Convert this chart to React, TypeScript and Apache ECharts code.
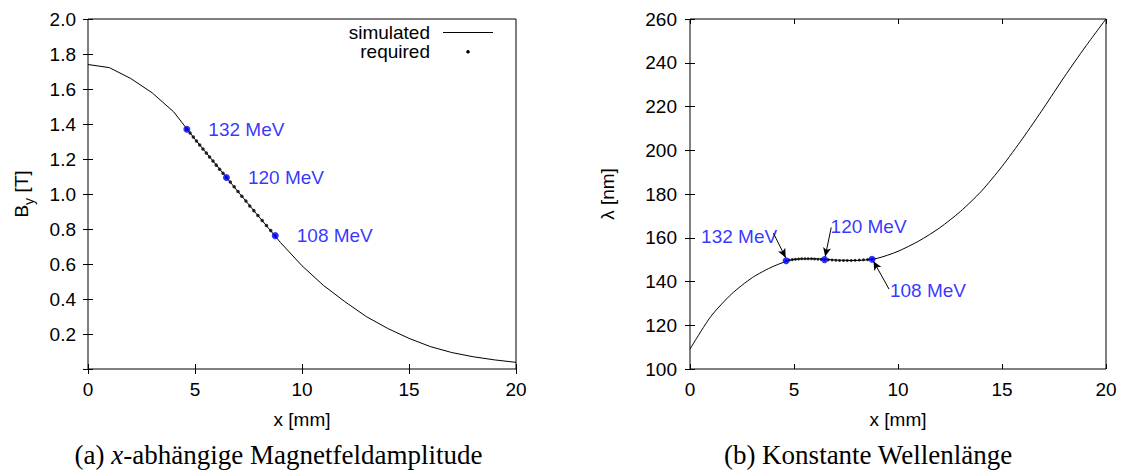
import React, { useEffect, useRef } from 'react';
import * as echarts from 'echarts';

// ---- Data ----
// (a) simulated field amplitude B_y [T] vs x [mm]
const simFieldX = [0, 1, 2, 3, 4, 5, 6, 7, 8, 9, 10, 11, 12, 13, 14, 15, 16, 17, 18, 19, 20];
const simFieldB = [1.740, 1.722, 1.660, 1.578, 1.470, 1.313, 1.165, 1.015, 0.868, 0.722, 0.590, 0.478, 0.385, 0.300, 0.232, 0.175, 0.128, 0.094, 0.070, 0.052, 0.038];

// (b) simulated wavelength lambda [nm] vs x [mm]
const simLambdaX = [0, 1, 2, 3, 4, 5, 6, 7, 8, 9, 10, 11, 12, 13, 14, 15, 16, 17, 18, 19, 20];
const simLambda = [109.1, 124.0, 134.3, 141.8, 146.9, 150.1, 150.4, 149.8, 149.6, 150.6, 153.8, 158.5, 164.5, 172.0, 181.2, 192.6, 205.5, 219.3, 233.6, 247.2, 260.0];

// required points (132 MeV ... 108 MeV)
const reqX = [4.62, 4.77, 4.92, 5.07, 5.22, 5.37, 5.53, 5.68, 5.84, 5.99, 6.15, 6.31, 6.47, 6.65, 6.83, 7.01, 7.19, 7.38, 7.56, 7.75, 7.94, 8.14, 8.34, 8.54, 8.75];
const reqB = [1.370, 1.348, 1.326, 1.303, 1.280, 1.257, 1.234, 1.211, 1.188, 1.165, 1.141, 1.118, 1.094, 1.068, 1.041, 1.014, 0.987, 0.960, 0.932, 0.905, 0.877, 0.849, 0.820, 0.791, 0.762];
const reqLambda = [149.5, 149.8, 150.0, 150.2, 150.3, 150.4, 150.4, 150.4, 150.4, 150.3, 150.2, 150.1, 150.0, 149.9, 149.8, 149.7, 149.6, 149.6, 149.6, 149.6, 149.7, 149.8, 149.9, 150.0, 150.2];

// highlighted energies
const energyLabels = ['132 MeV', '120 MeV', '108 MeV'];
const energyX = [4.62, 6.47, 8.75];
const energyB = [1.370, 1.094, 0.762];
const energyLambda = [149.5, 150.0, 150.2];
// arrow anchors (data units) for panel (b)
const arrowFromX = [4.01, 6.79, 9.57];
const arrowFromLambda = [162.1, 164.7, 136.5];
const arrowToX = [4.60, 6.50, 8.82];
const arrowToLambda = [150.9, 151.4, 149.3];

const xTicksMin = 0, xTicksMax = 20, xTickStep = 5;
const fieldMin = 0, fieldMax = 2.0, fieldStep = 0.2;
const lambdaMin = 100, lambdaMax = 260, lambdaStep = 20;

const captionA = ['(a) ', 'x', '-abhängige Magnetfeldamplitude'];
const captionB = '(b) Konstante Wellenlänge';

export default function App() {
  const ref = useRef<HTMLDivElement>(null);
  useEffect(() => {
    if (!ref.current) return;
    const chart = echarts.init(ref.current, undefined, { renderer: 'svg' });
    const SANS = 'Liberation Sans, Arial, Helvetica, sans-serif';
    const SERIF = 'Liberation Serif, Times New Roman, serif';
    const FS = 19;
    const CAP = 27;
    const black = '#000';
    const blue = '#0000ff';

    const grids = [
      { left: 88, top: 19, width: 428, height: 350, show: true, borderColor: black, borderWidth: 1, backgroundColor: 'transparent' },
      { left: 690, top: 19, width: 416, height: 350, show: true, borderColor: black, borderWidth: 1, backgroundColor: 'transparent' },
    ];

    const xBase = (gridIndex: number, position: 'bottom' | 'top', main: boolean) => ({
      type: 'value', gridIndex, position, min: xTicksMin, max: xTicksMax, interval: xTickStep,
      axisLine: { show: false },
      axisTick: { show: true, inside: true, length: 5, lineStyle: { color: black, width: 1 } },
      axisLabel: { show: main, color: black, fontFamily: SANS, fontSize: FS, margin: 11 },
      splitLine: { show: false },
      name: main ? 'x [mm]' : '',
      nameLocation: 'middle', nameGap: 41,
      nameTextStyle: { color: black, fontFamily: SANS, fontSize: FS },
    });

    const yField = (position: 'left' | 'right', main: boolean) => ({
      type: 'value', gridIndex: 0, position, min: fieldMin, max: fieldMax, interval: fieldStep,
      axisLine: { show: false },
      axisTick: { show: true, inside: true, length: 5, lineStyle: { color: black, width: 1 } },
      axisLabel: {
        show: main, color: black, fontFamily: SANS, fontSize: FS, margin: 12,
        formatter: (v: number) => (Math.abs(v) < 1e-9 ? '' : v.toFixed(1)),
      },
      splitLine: { show: false },
      name: main ? '{b|B}{s|y}{b| [T]}' : '',
      nameLocation: 'middle', nameGap: 52,
      nameTextStyle: {
        color: black, fontFamily: SANS, fontSize: FS,
        rich: {
          b: { fontFamily: SANS, fontSize: FS, color: black, lineHeight: 30, verticalAlign: 'middle' },
          s: { fontFamily: SANS, fontSize: 14, color: black, lineHeight: 30, verticalAlign: 'bottom' },
        },
      },
    });

    const yLambda = (position: 'left' | 'right', main: boolean) => ({
      type: 'value', gridIndex: 1, position, min: lambdaMin, max: lambdaMax, interval: lambdaStep,
      axisLine: { show: false },
      axisTick: { show: true, inside: true, length: 5, lineStyle: { color: black, width: 1 } },
      axisLabel: { show: main, color: black, fontFamily: SANS, fontSize: FS, margin: 13 },
      splitLine: { show: false },
      name: main ? 'λ [nm]' : '',
      nameLocation: 'middle', nameGap: 73,
      nameTextStyle: { color: black, fontFamily: SANS, fontSize: FS },
    });

    const zip = (a: number[], b: number[]) => a.map((v, i) => [v, b[i]]);

    const rightOffsets = [[-47, -24], [44, -33], [56, 31]];

    const option: any = {
      animation: false,
      backgroundColor: '#fff',
      grid: grids,
      xAxis: [xBase(0, 'bottom', true), xBase(0, 'top', false), xBase(1, 'bottom', true), xBase(1, 'top', false)],
      yAxis: [yField('left', true), yField('right', false), yLambda('left', true), yLambda('right', false)],
      series: [
        {
          name: 'simulated', type: 'line', xAxisIndex: 0, yAxisIndex: 0,
          data: zip(simFieldX, simFieldB), showSymbol: false,
          lineStyle: { color: black, width: 1 }, z: 2,
        },
        {
          name: 'required', type: 'scatter', xAxisIndex: 0, yAxisIndex: 0,
          data: zip(reqX, reqB), symbolSize: 3.5, itemStyle: { color: black }, z: 3,
        },
        {
          name: 'energiesA', type: 'scatter', xAxisIndex: 0, yAxisIndex: 0,
          data: energyX.map((x, i) => ({ value: [x, energyB[i]], name: energyLabels[i] })),
          symbolSize: 7, itemStyle: { color: blue }, z: 4,
          label: {
            show: true, position: 'right', distance: 18, formatter: '{b}',
            color: blue, fontFamily: SANS, fontSize: FS,
          },
        },
        {
          name: 'simulatedB', type: 'line', xAxisIndex: 2, yAxisIndex: 2,
          data: zip(simLambdaX, simLambda), smooth: 0.25, showSymbol: false,
          lineStyle: { color: black, width: 1 }, z: 2,
        },
        {
          name: 'requiredB', type: 'scatter', xAxisIndex: 2, yAxisIndex: 2,
          data: zip(reqX, reqLambda), symbolSize: 3, itemStyle: { color: black }, z: 3,
        },
        {
          name: 'energiesB', type: 'scatter', xAxisIndex: 2, yAxisIndex: 2,
          data: energyX.map((x, i) => ({
            value: [x, energyLambda[i]], name: energyLabels[i],
            label: { position: 'inside', offset: rightOffsets[i], align: 'center', verticalAlign: 'middle' },
          })),
          symbolSize: 7, itemStyle: { color: blue }, z: 4,
          label: { show: true, formatter: '{b}', color: blue, fontFamily: SANS, fontSize: FS },
          markLine: {
            silent: true, animation: false,
            symbol: ['none', 'arrow'], symbolSize: [6, 9],
            lineStyle: { color: black, width: 1, type: 'solid' },
            label: { show: false },
            data: arrowFromX.map((x, i) => [
              { coord: [x, arrowFromLambda[i]] },
              { coord: [arrowToX[i], arrowToLambda[i]] },
            ]),
          },
        },
      ],
      graphic: [
        // legend of panel (a)
        { type: 'text', x: 430, y: 32.5, style: { text: 'simulated', fill: black, font: `${FS}px ${SANS}`, align: 'right', verticalAlign: 'middle' } },
        { type: 'line', shape: { x1: 443, y1: 32.5, x2: 493, y2: 32.5 }, style: { stroke: black, lineWidth: 1 } },
        { type: 'text', x: 430, y: 51.7, style: { text: 'required', fill: black, font: `${FS}px ${SANS}`, align: 'right', verticalAlign: 'middle' } },
        { type: 'circle', shape: { cx: 468, cy: 51.7, r: 1.8 }, style: { fill: black } },
        // captions
        {
          type: 'text', x: 278.5, y: 455,
          style: {
            text: `{n|${captionA[0]}}{i|${captionA[1]}}{n|${captionA[2]}}`,
            align: 'center', verticalAlign: 'middle',
            rich: {
              n: { fontFamily: SERIF, fontSize: CAP, fill: black },
              i: { fontFamily: SERIF, fontSize: CAP, fontStyle: 'italic', fill: black },
            },
          },
        },
        {
          type: 'text', x: 868, y: 455,
          style: { text: captionB, fill: black, fontFamily: SERIF, fontSize: CAP, align: 'center', verticalAlign: 'middle' },
        },
      ],
    };
    chart.setOption(option);
    return () => chart.dispose();
  }, []);
  return <div ref={ref} style={{ position: 'absolute', left: 0, top: 0, width: 1124, height: 470 }} />;
}
